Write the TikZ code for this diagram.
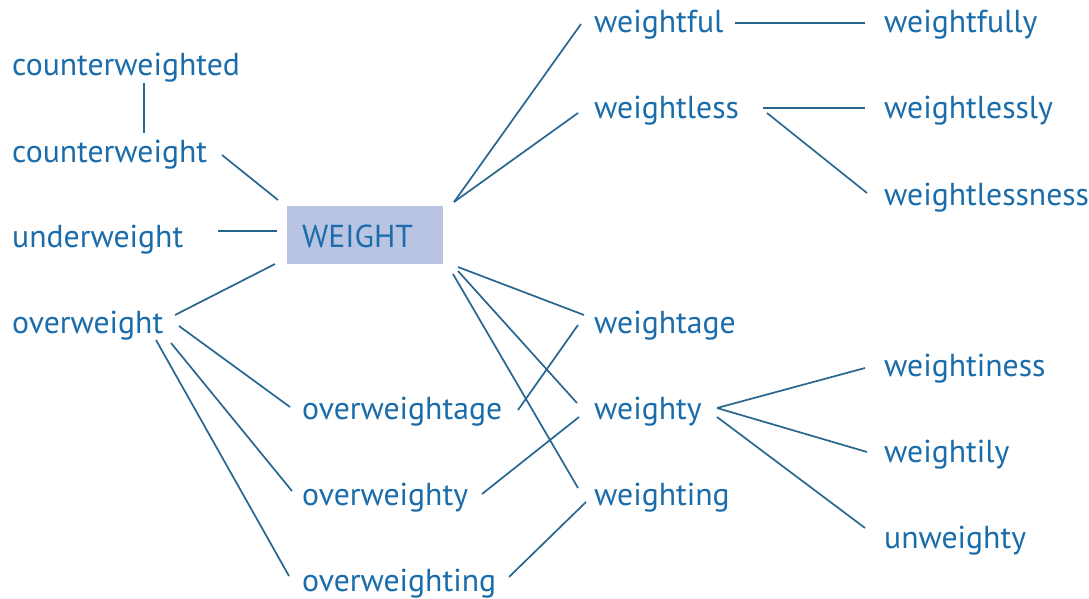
\documentclass[tikz,border=0pt]{standalone}
\usepackage{fontspec}
\setmainfont{PT Sans}
\definecolor{txt}{RGB}{26,108,170}
\definecolor{ln}{RGB}{40,102,144}
\definecolor{boxfill}{RGB}{184,196,226}
\begin{document}
\begin{tikzpicture}[x=1pt,y=-1pt,
  lbl/.style={inner sep=0pt, anchor=base west, text=txt, font=\fontsize{31.7}{36}\selectfont},
  conn/.style={draw=ln, line width=1.7pt}]
\useasboundingbox (0,0) rectangle (1089,599);
\fill[white] (0,0) rectangle (1089,599);
% central box
\node[fill=boxfill, inner sep=0pt, minimum width=156pt, minimum height=58pt, anchor=north west] (box) at (287,206) {};
\node[lbl] (W) at (302,247) {WEIGHT};
% left column
\node[lbl] (cwd) at (12,76) {counterweighted};
\node[lbl] (cw) at (12,162) {counterweight};
\node[lbl] (uw) at (12,247) {underweight};
\node[lbl] (ow) at (12,333) {overweight};
% lower middle column
\node[lbl] (owa) at (302,419) {overweightage};
\node[lbl] (owy) at (302,505) {overweighty};
\node[lbl] (owg) at (302,591) {overweighting};
% middle column
\node[lbl] (wf) at (594,33) {weightful};
\node[lbl] (wl) at (594,119) {weightless};
\node[lbl] (wa) at (594,333) {weightage};
\node[lbl] (wy) at (594,419) {weighty};
\node[lbl] (wg) at (594,505) {weighting};
% right column
\node[lbl] (wfy) at (884,33) {weightfully};
\node[lbl] (wly) at (884,119) {weightlessly};
\node[lbl] (wln) at (884,205) {weightlessness};
\node[lbl] (wi) at (884,376) {weightiness};
\node[lbl] (wil) at (884,462) {weightily};
\node[lbl] (unw) at (884,548) {unweighty};
% connector end points
\coordinate (cwd-s) at (144,83);   \coordinate (cw-n) at (144,133);
\coordinate (cw-e) at (222,155);   \coordinate (box-nw) at (278,200);
\coordinate (uw-e) at (218,231);   \coordinate (box-w) at (277,231);
\coordinate (ow-ne) at (175,315);  \coordinate (box-sw) at (275,264);
\coordinate (ow-e1) at (179,326);  \coordinate (owa-w) at (290,407);
\coordinate (ow-e2) at (171,343);  \coordinate (owy-w) at (292,491);
\coordinate (ow-e3) at (156,340);  \coordinate (owg-w) at (289,576);
\coordinate (box-ne) at (454,202);
\coordinate (wf-w) at (581,24);    \coordinate (wl-w) at (578,113);
\coordinate (box-se1) at (458,267); \coordinate (wa-w) at (584,315);
\coordinate (box-se2) at (458,271); \coordinate (wy-w) at (577,403);
\coordinate (box-se3) at (453,274); \coordinate (wg-w) at (578,488);
\coordinate (owa-e) at (518,410);  \coordinate (wa-sw) at (578,325);
\coordinate (owy-e) at (482,494);  \coordinate (wy-sw) at (579,417);
\coordinate (owg-e) at (509,577);  \coordinate (wg-sw) at (586,502);
\coordinate (wf-e) at (735,23);    \coordinate (wfy-w) at (865,23);
\coordinate (wl-e1) at (763,108);  \coordinate (wly-w) at (865,108);
\coordinate (wl-e2) at (767,113);  \coordinate (wln-w) at (867,193);
\coordinate (wy-e1) at (717,408);  \coordinate (wi-w) at (865,368);
\coordinate (wil-w) at (867,452);
\coordinate (wy-e2) at (717,417);  \coordinate (unw-w) at (865,528);
% connectors
\draw[conn] (cwd-s) -- (cw-n);
\draw[conn] (cw-e) -- (box-nw);
\draw[conn] (uw-e) -- (box-w);
\draw[conn] (ow-ne) -- (box-sw);
\draw[conn] (ow-e1) -- (owa-w);
\draw[conn] (ow-e2) -- (owy-w);
\draw[conn] (ow-e3) -- (owg-w);
\draw[conn] (box-ne) -- (wf-w);
\draw[conn] (box-ne) -- (wl-w);
\draw[conn] (box-se1) -- (wa-w);
\draw[conn] (box-se2) -- (wy-w);
\draw[conn] (box-se3) -- (wg-w);
\draw[conn] (owa-e) -- (wa-sw);
\draw[conn] (owy-e) -- (wy-sw);
\draw[conn] (owg-e) -- (wg-sw);
\draw[conn] (wf-e) -- (wfy-w);
\draw[conn] (wl-e1) -- (wly-w);
\draw[conn] (wl-e2) -- (wln-w);
\draw[conn] (wy-e1) -- (wi-w);
\draw[conn] (wy-e1) -- (wil-w);
\draw[conn] (wy-e2) -- (unw-w);
\end{tikzpicture}
\end{document}
